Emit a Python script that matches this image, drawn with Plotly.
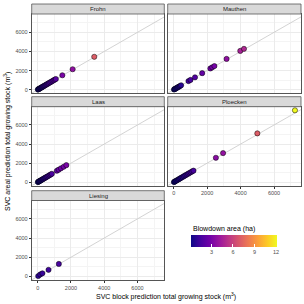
import plotly.graph_objects as go

# ---------------- data ----------------
frohn_block = [10, 35, 65, 95, 130, 170, 210, 250, 295, 340, 390, 440, 495, 550, 610, 670, 740, 810, 880, 950, 1020, 1090, 1480, 2100, 3400]
frohn_areal = [15, 40, 70, 100, 140, 175, 220, 260, 305, 355, 400, 455, 510, 570, 625, 690, 760, 830, 905, 975, 1050, 1120, 1510, 2140, 3440]
frohn_area = [0.1, 0.2, 0.25, 0.3, 0.4, 0.5, 0.55, 0.6, 0.7, 0.8, 0.9, 1.0, 1.1, 1.2, 1.3, 1.4, 1.5, 1.6, 1.7, 1.8, 1.9, 2.0, 3.0, 3.7, 7.0]

mauthen_block = [15, 50, 90, 140, 190, 250, 310, 370, 440, 880, 1000, 1270, 1700, 2190, 2300, 2430, 3160, 3980, 4200]
mauthen_areal = [20, 55, 95, 150, 200, 260, 320, 385, 460, 900, 1020, 1290, 1730, 2220, 2340, 2470, 3220, 4060, 4270]
mauthen_area = [0.1, 0.15, 0.2, 0.3, 0.35, 0.4, 0.5, 0.6, 0.7, 1.3, 1.5, 1.8, 2.3, 2.7, 2.8, 2.9, 3.7, 4.5, 4.8]

laas_block = [10, 40, 75, 110, 150, 195, 240, 290, 340, 395, 450, 510, 570, 640, 710, 780, 850, 1150, 1260, 1400, 1560, 1720]
laas_areal = [15, 45, 80, 115, 160, 205, 250, 300, 355, 410, 470, 530, 590, 660, 735, 805, 880, 1200, 1310, 1460, 1620, 1790]
laas_area = [0.1, 0.15, 0.2, 0.3, 0.35, 0.45, 0.5, 0.6, 0.7, 0.8, 0.9, 1.0, 1.1, 1.2, 1.35, 1.5, 1.6, 2.2, 2.4, 2.6, 2.8, 3.0]

ploecken_block = [10, 55, 110, 170, 240, 310, 380, 450, 530, 610, 690, 770, 850, 930, 1010, 1090, 1180, 2520, 2950, 5000, 7250]
ploecken_areal = [15, 60, 115, 180, 250, 320, 395, 470, 550, 630, 715, 795, 875, 960, 1040, 1120, 1210, 2560, 3050, 5120, 7540]
ploecken_area = [0.1, 0.15, 0.2, 0.3, 0.4, 0.45, 0.55, 0.6, 0.7, 0.8, 0.9, 1.0, 1.1, 1.2, 1.3, 1.4, 1.5, 3.5, 3.8, 7.0, 12.1]

liesing_block = [30, 150, 280, 650, 1270]
liesing_areal = [40, 200, 320, 680, 1300]
liesing_area = [0.8, 1.0, 1.1, 1.3, 1.5]

site_names = ["Frohn", "Mauthen", "Laas", "Ploecken", "Liesing"]
axis_ticks = [0, 2000, 4000, 6000]
axis_minor = [1000, 3000, 5000, 7000]
color_ticks = [3, 6, 9, 12]

x_title = "SVC block prediction total growing stock (m<sup>3</sup>)"
y_title = "SVC areal prediction total growing stock (m<sup>3</sup>)"
color_title = "Blowdown area (ha)"

# ---------------- layout helpers ----------------
W = H = 304
FONT = "Liberation Sans, Arial, Helvetica, sans-serif"

def px_x(p):
    return p / W

def px_y(p):
    return 1 - p / H

col_px = [(31.7, 164.3), (167.7, 301.0)]
row_px = [(4.0, 14.0, 93.3), (96.7, 106.7, 185.8), (190.7, 200.5, 280.0)]

all_block = frohn_block + mauthen_block + laas_block + ploecken_block + liesing_block
all_areal = frohn_areal + mauthen_areal + laas_areal + ploecken_areal + liesing_areal
all_area = frohn_area + mauthen_area + laas_area + ploecken_area + liesing_area

def expand(lo, hi, f=0.05):
    d = (hi - lo) * f
    return [lo - d, hi + d]

x_range = expand(0, max(all_block))
y_range = expand(0, max(all_areal))
line_pts = [min(x_range[0], y_range[0]), max(x_range[1], y_range[1])]

panels = [
    ("Frohn", frohn_block, frohn_areal, frohn_area, 0, 0, False, True),
    ("Mauthen", mauthen_block, mauthen_areal, mauthen_area, 1, 0, False, False),
    ("Laas", laas_block, laas_areal, laas_area, 0, 1, False, True),
    ("Ploecken", ploecken_block, ploecken_areal, ploecken_area, 1, 1, True, False),
    ("Liesing", liesing_block, liesing_areal, liesing_area, 0, 2, True, True),
]

fig = go.Figure()
shapes = []
annotations = []
layout_axes = {}

for i, (name, bx, ay, ar, c, r, show_x, show_y) in enumerate(panels):
    n = i + 1
    xa = "x" if n == 1 else f"x{n}"
    ya = "y" if n == 1 else f"y{n}"
    fig.add_trace(go.Scatter(x=line_pts, y=line_pts, mode="lines",
                             line=dict(color="#c8c8c8", width=0.8),
                             xaxis=xa, yaxis=ya, showlegend=False, hoverinfo="skip"))
    fig.add_trace(go.Scatter(x=bx, y=ay, mode="markers",
                             marker=dict(size=5.2, color=ar, coloraxis="coloraxis",
                                         line=dict(color="black", width=0.5)),
                             xaxis=xa, yaxis=ya, showlegend=False, name=name))
    x0, x1 = col_px[c]
    s0, s1, p1 = row_px[r]
    common = dict(showline=True, mirror=True, linecolor="#555555", linewidth=0.8,
                  zeroline=False, showgrid=True, gridcolor="#ebebeb", gridwidth=0.8,
                  tickmode="array", tickvals=axis_ticks,
                  minor=dict(tickmode="array", tickvals=axis_minor, showgrid=True,
                             gridcolor="#f4f4f4", gridwidth=0.5, ticks=""),
                  tickfont=dict(family=FONT, size=5.5, color="#4d4d4d"),
                  ticklen=2, tickwidth=0.5, tickcolor="#333333", automargin=False)
    xkey = "xaxis" if n == 1 else f"xaxis{n}"
    ykey = "yaxis" if n == 1 else f"yaxis{n}"
    layout_axes[xkey] = dict(common, domain=[px_x(x0), px_x(x1)], range=x_range,
                             anchor=ya, showticklabels=show_x,
                             ticks="outside" if show_x else "")
    layout_axes[ykey] = dict(common, domain=[px_y(p1), px_y(s1)], range=y_range,
                             anchor=xa, showticklabels=show_y,
                             ticks="outside" if show_y else "")
    shapes.append(dict(type="rect", xref="paper", yref="paper",
                       x0=px_x(x0), x1=px_x(x1), y0=px_y(s1), y1=px_y(s0),
                       fillcolor="#d9d9d9", line=dict(color="#555555", width=0.8)))
    annotations.append(dict(xref="paper", yref="paper", x=px_x((x0 + x1) / 2),
                            y=px_y((s0 + s1) / 2), text=name, showarrow=False,
                            xanchor="center", yanchor="middle",
                            font=dict(family=FONT, size=6, color="#1a1a1a")))

annotations.append(dict(xref="paper", yref="paper", x=px_x(166), y=px_y(296.5),
                        text=x_title, showarrow=False, xanchor="center", yanchor="middle",
                        font=dict(family=FONT, size=7, color="black")))
annotations.append(dict(xref="paper", yref="paper", x=px_x(7), y=px_y(142),
                        text=y_title, showarrow=False, textangle=-90,
                        xanchor="center", yanchor="middle",
                        font=dict(family=FONT, size=7, color="black")))
annotations.append(dict(xref="paper", yref="paper", x=px_x(190.7), y=px_y(228.5),
                        text=color_title, showarrow=False, xanchor="left", yanchor="middle",
                        font=dict(family=FONT, size=7, color="black")))

fig.update_layout(
    width=W, height=H,
    margin=dict(l=0, r=0, t=0, b=0, pad=0, autoexpand=False),
    paper_bgcolor="white", plot_bgcolor="white",
    showlegend=False,
    shapes=shapes, annotations=annotations,
    coloraxis=dict(
        colorscale="Plasma", cmin=min(all_area), cmax=max(all_area),
        colorbar=dict(orientation="h", x=px_x(190.7), xanchor="left",
                      y=px_y(235), yanchor="top", xref="paper", yref="paper",
                      lenmode="pixels", len=86, thickness=12,
                      xpad=0, ypad=0, outlinewidth=0,
                      tickmode="array", tickvals=color_ticks,
                      ticks="inside", ticklen=2.5, tickwidth=0.8, tickcolor="white",
                      tickfont=dict(family=FONT, size=5.5, color="#4d4d4d"))),
    **layout_axes,
)

fig.write_html("out.html", config={"displayModeBar": False},
               post_script="document.body.style.margin='0';document.body.style.padding='0';document.documentElement.style.overflow='hidden';")
